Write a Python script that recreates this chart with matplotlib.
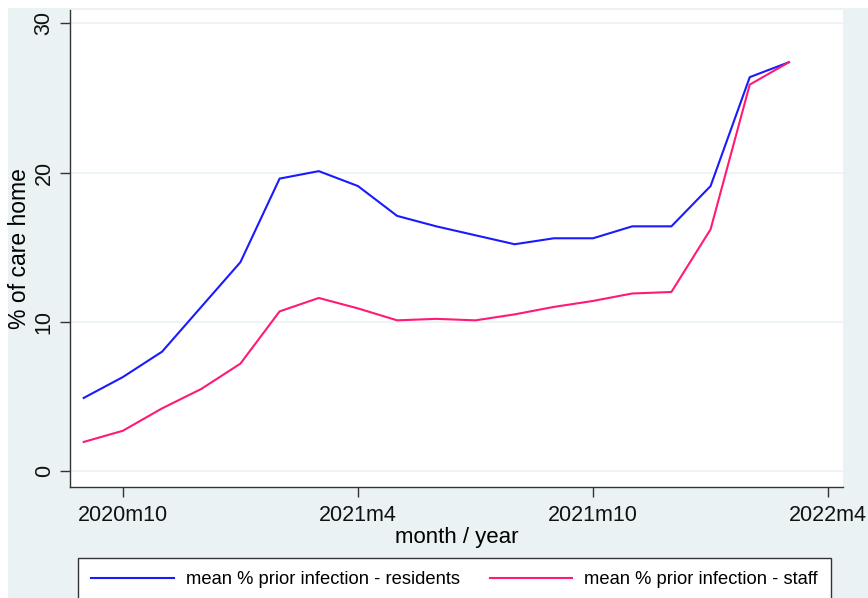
import matplotlib.pyplot as plt
from matplotlib.patches import Rectangle

plt.rcParams['font.family'] = ['Liberation Sans', 'DejaVu Sans']

# months since 2020m10 (2020m9 .. 2022m3)
months = list(range(-1, 18))
residents = [4.9, 6.3, 8.0, 11.0, 14.0, 19.6, 20.1, 19.1, 17.1, 16.4, 15.8,
             15.2, 15.6, 15.6, 16.4, 16.4, 19.1, 26.4, 27.4]
staff = [1.95, 2.7, 4.2, 5.5, 7.2, 10.7, 11.6, 10.9, 10.1, 10.2, 10.1,
         10.5, 11.0, 11.4, 11.9, 12.0, 16.2, 25.9, 27.4]

tick_pos = [0, 6, 12, 18]
tick_labels = ["2020m10", "2021m4", "2021m10", "2022m4"]
y_ticks = [0, 10, 20, 30]

W, H = 868, 598
fig = plt.figure(figsize=(W / 100, H / 100), dpi=100, facecolor="white")

# Stata-style light background
bg = Rectangle((8 / W, 0), 1, 1 - 8 / H, transform=fig.transFigure,
               facecolor="#eaf2f3", edgecolor="none", zorder=-5)
fig.add_artist(bg)

ax = fig.add_axes([70 / W, 1 - 487 / H, (843 - 70) / W, (487 - 10) / H])
ax.set_facecolor("white")

ax.plot(months, residents, color="#1a1aff", lw=1.5,
        label="mean % prior infection - residents")
ax.plot(months, staff, color="#ff1a75", lw=1.5,
        label="mean % prior infection - staff")

ax.set_xlim(-1.35, 18.38)
ax.set_ylim(-1.07, 30.9)
ax.set_xticks(tick_pos)
ax.set_xticklabels(tick_labels)
ax.set_yticks(y_ticks)
ax.set_yticklabels([str(v) for v in y_ticks], rotation=90, va="center")

ax.grid(axis="y", color="#eaf2f3", lw=1.2)
ax.set_axisbelow(True)
for s in ["top", "right"]:
    ax.spines[s].set_visible(False)
for s in ["left", "bottom"]:
    ax.spines[s].set_color("#333333")
    ax.spines[s].set_linewidth(1.0)

ax.tick_params(axis="both", length=7, width=1, color="#333333",
               labelsize=15.5, labelcolor="#111111")
ax.tick_params(axis="x", pad=6)
ax.tick_params(axis="y", pad=4)

ax.set_xlabel("month / year", fontsize=16, labelpad=1)
ax.set_ylabel("% of care home", fontsize=16.5, labelpad=2)

leg = fig.legend(loc="upper left", bbox_to_anchor=(78 / W, 1 - 558 / H),
                 ncol=2, fontsize=13.2, frameon=True, fancybox=False,
                 handlelength=4.5, columnspacing=1.65, borderpad=0.72,
                 handletextpad=0.65, borderaxespad=0)
leg.get_frame().set_edgecolor("#333333")
leg.get_frame().set_linewidth(1.0)
leg.get_frame().set_alpha(1)

fig.savefig("out.png", dpi=100)
